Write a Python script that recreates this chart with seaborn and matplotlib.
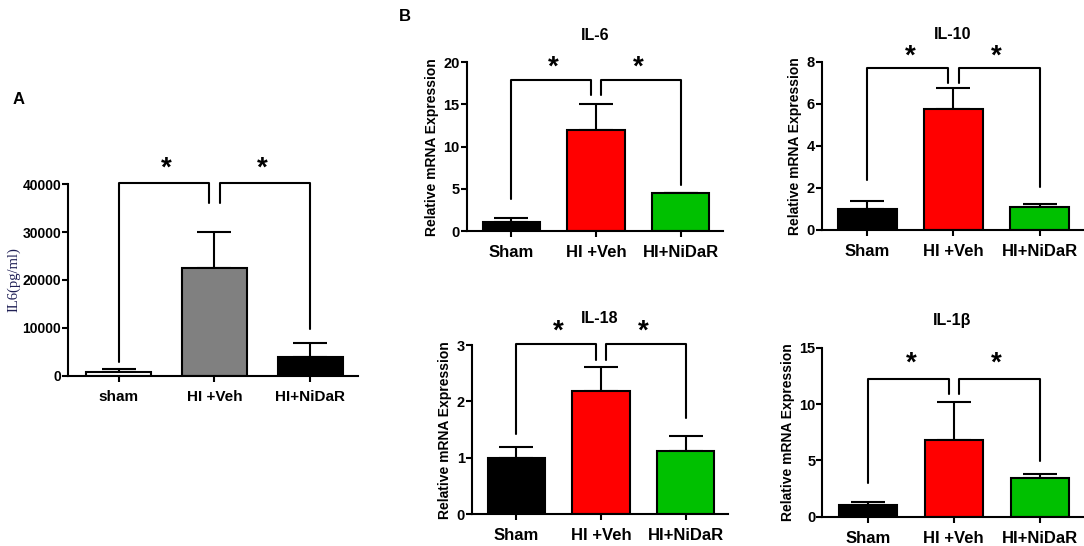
import matplotlib
matplotlib.use("Agg")
import matplotlib.pyplot as plt
import seaborn as sns

# panel A: IL6 protein (ELISA)
groups_a = ["sham", "HI +Veh", "HI+NiDaR"]
il6_protein = [750, 22600, 3950]
il6_protein_err = [600, 7500, 2800]
colors_a = ["#FFFFFF", "#808080", "#000000"]

# panel B: relative mRNA expression
groups_b = ["Sham", "HI +Veh", "HI+NiDaR"]
colors_b = ["#000000", "#FF0000", "#00C000"]

il6_mrna = [1.1, 12.0, 4.45]
il6_mrna_err = [0.45, 3.1, 0.1]
il10_mrna = [1.0, 5.75, 1.08]
il10_mrna_err = [0.4, 1.0, 0.14]
il18_mrna = [1.0, 2.18, 1.12]
il18_mrna_err = [0.2, 0.43, 0.27]
il1b_mrna = [1.04, 6.8, 3.4]
il1b_mrna_err = [0.23, 3.35, 0.42]

# significance brackets: (top, left leg end, middle leg end, right leg end, star height)
brackets = {
    "A": (40200, 2900, 36000, 9700, 43200),
    "IL-6": (17.9, 3.75, 16.1, 5.5, 19.4),
    "IL-10": (7.68, 2.38, 6.97, 2.06, 8.25),
    "IL-18": (3.02, 1.43, 2.73, 1.70, 3.24),
    "IL-1β": (12.2, 3.0, 10.9, 4.9, 13.6),
}

sns.set_style("ticks")
plt.rcParams["font.family"] = ["Liberation Sans", "DejaVu Sans"]
plt.rcParams["font.weight"] = "bold"
plt.rcParams["text.color"] = "black"
plt.rcParams["axes.labelcolor"] = "black"
plt.rcParams["xtick.color"] = "black"
plt.rcParams["ytick.color"] = "black"
plt.rcParams["axes.edgecolor"] = "black"

fig = plt.figure(figsize=(10.84, 5.46), dpi=100)


def draw_panel(ax, groups, values, errs, colors, ymax, yticks, key, tick_fs, xlab_fs):
    sns.barplot(x=groups, y=values, hue=groups, palette=colors, legend=False,
                edgecolor="black", linewidth=1.5, width=0.68, saturation=1, ax=ax, zorder=2)
    ax.errorbar(range(len(groups)), values, yerr=[[0] * len(errs), errs], fmt="none",
                ecolor="black", elinewidth=1.5, capsize=12.5, capthick=1.5, zorder=1)
    ax.set_xlim(-0.53, 2.5)
    ax.set_ylim(0, ymax)
    ax.set_yticks(yticks)
    ax.tick_params(axis="y", labelsize=tick_fs, width=1.5, length=4, pad=1)
    ax.tick_params(axis="x", labelsize=xlab_fs, width=1.5, length=4, pad=6)
    for lab in ax.get_xticklabels() + ax.get_yticklabels():
        lab.set_fontweight("bold")
    for s in ["left", "bottom"]:
        ax.spines[s].set_linewidth(1.5)
    sns.despine(ax=ax)

    top, left_end, mid_end, right_end, star_y = brackets[key]
    kw = dict(color="black", lw=1.5, clip_on=False)
    ax.plot([0, 0, 0.94, 0.94], [left_end, top, top, mid_end], **kw)
    ax.plot([1.06, 1.06, 2, 2], [mid_end, top, top, right_end], **kw)
    for xs in [0.5, 1.5]:
        ax.text(xs, star_y, "*", ha="center", va="center", fontsize=20,
                fontweight="bold", clip_on=False)


# panel A
ax_a = fig.add_axes([0.0627, 0.312, 0.2675, 0.3505])
draw_panel(ax_a, groups_a, il6_protein, il6_protein_err, colors_a, 40000,
           [0, 10000, 20000, 30000, 40000], "A", 10, 11)
ax_a.set_ylabel("IL6(pg/ml)", family=["Liberation Serif", "DejaVu Serif"],
                fontweight="normal", fontsize=10.5, color="#1F1F55", labelpad=1)
fig.text(0.012, 0.81, "A", fontsize=12, fontweight="bold")

# panel B
panels_b = [
    ([0.4305, 0.5769, 0.2364, 0.309], "IL-6", il6_mrna, il6_mrna_err, 20, [0, 5, 10, 15, 20]),
    ([0.758, 0.5788, 0.2408, 0.3082], "IL-10", il10_mrna, il10_mrna_err, 8, [0, 2, 4, 6, 8]),
    ([0.4351, 0.058, 0.2364, 0.31], "IL-18", il18_mrna, il18_mrna_err, 3, [0, 1, 2, 3]),
    ([0.7586, 0.0537, 0.2402, 0.3095], "IL-1β", il1b_mrna, il1b_mrna_err, 15, [0, 5, 10, 15]),
]
for rect, title, vals, errs, ymax, ticks in panels_b:
    ax = fig.add_axes(rect)
    draw_panel(ax, groups_b, vals, errs, colors_b, ymax, ticks, title, 10.5, 12)
    ax.set_ylabel("Relative mRNA Expression", fontsize=10, fontweight="bold", labelpad=3)
    ax.set_title(title, fontsize=11.5, fontweight="bold", pad=16)
fig.text(0.368, 0.962, "B", fontsize=12, fontweight="bold")

fig.savefig("out.png", dpi=100)
